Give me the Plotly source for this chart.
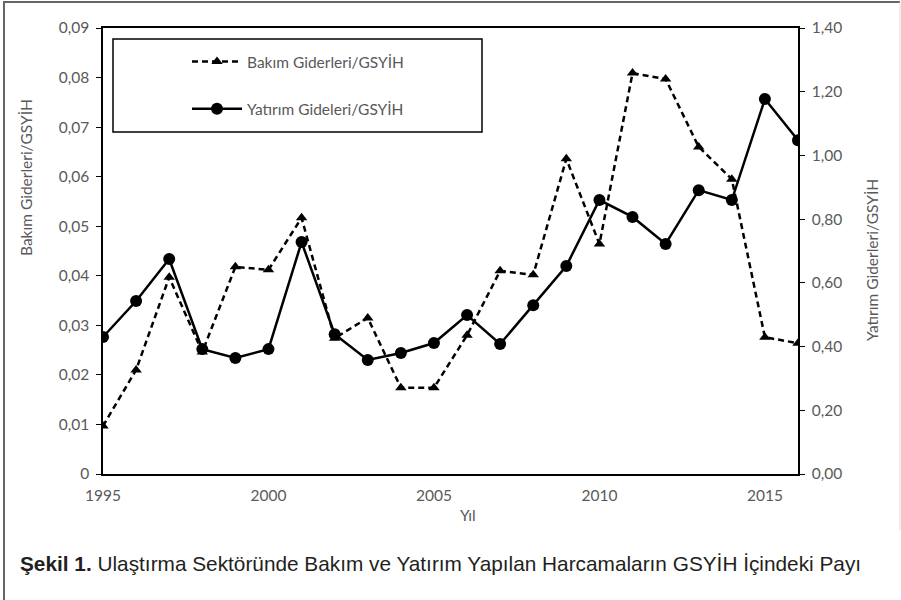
import plotly.graph_objects as go

years = list(range(1995, 2017))
bakim = [0.0097, 0.0210, 0.0397, 0.0246, 0.0418, 0.0412, 0.0517, 0.0274, 0.0315, 0.0174, 0.0174,
         0.0280, 0.0410, 0.0402, 0.0636, 0.0464, 0.0809, 0.0797, 0.0660, 0.0595, 0.0276, 0.0264]
yatirim = [0.430, 0.543, 0.675, 0.392, 0.364, 0.392, 0.728, 0.439, 0.358, 0.380, 0.411,
           0.499, 0.408, 0.530, 0.653, 0.860, 0.807, 0.722, 0.891, 0.860, 1.177, 1.048]

left_ticks = [0, 0.01, 0.02, 0.03, 0.04, 0.05, 0.06, 0.07, 0.08, 0.09]
left_ticktext = ["0", "0,01", "0,02", "0,03", "0,04", "0,05", "0,06", "0,07", "0,08", "0,09"]
right_ticks = [0, 0.2, 0.4, 0.6, 0.8, 1.0, 1.2, 1.4]
right_ticktext = ["0,00", "0,20", "0,40", "0,60", "0,80", "1,00", "1,20", "1,40"]
x_ticks = [1995, 2000, 2005, 2010, 2015]

FAM = "Lato, Open Sans, sans-serif"
TICKFONT = dict(family=FAM, size=15.5, color="#595959")

fig = go.Figure()
fig.add_trace(go.Scatter(
    x=years, y=bakim, name="Bakım Giderleri/GSYİH", mode="lines+markers",
    line=dict(color="black", width=2.5, dash="6px,4px"),
    marker=dict(symbol="triangle-up", size=10, color="black"),
    legendgroup="a", yaxis="y"))
fig.add_trace(go.Scatter(
    x=years, y=yatirim, name="Yatırım Gideleri/GSYİH", mode="lines+markers",
    line=dict(color="black", width=2.5),
    marker=dict(symbol="circle", size=12, color="black"),
    legendgroup="b", yaxis="y2"))

def px_x(p):
    return (p - 103) / 695

def px_y(p):
    return (474 - p) / 446

fig.update_layout(
    width=901, height=600,
    margin=dict(l=103, r=103, t=28, b=126),
    paper_bgcolor="white", plot_bgcolor="white",
    showlegend=True,
    legend=dict(x=px_x(187), y=px_y(45), xanchor="left", yanchor="top",
                bgcolor="rgba(0,0,0,0)", borderwidth=0,
                font=dict(family=FAM, size=15.5, color="#595959"),
                traceorder="grouped", tracegroupgap=24, itemwidth=50),
    xaxis=dict(range=[1995, 2016], tickvals=x_ticks, ticks="", showgrid=False, zeroline=False,
               showline=True, linecolor="black", linewidth=1.5, mirror=True,
               tickfont=TICKFONT, ticklabelstandoff=7),
    yaxis=dict(range=[0, 0.09], tickvals=left_ticks, ticktext=left_ticktext,
               ticks="outside", ticklen=5, tickcolor="black", showgrid=False, zeroline=False,
               showline=True, linecolor="black", linewidth=1.5, tickfont=TICKFONT,
               ticklabelstandoff=4),
    yaxis2=dict(range=[0, 1.4], tickvals=right_ticks, ticktext=right_ticktext,
                overlaying="y", side="right",
                ticks="outside", ticklen=5, tickcolor="black", showgrid=False, zeroline=False,
                showline=True, linecolor="black", linewidth=1.5, tickfont=TICKFONT,
                ticklabelstandoff=4),
    shapes=[
        dict(type="rect", xref="paper", yref="paper",
             x0=px_x(113), x1=px_x(482), y0=px_y(132), y1=px_y(39),
             line=dict(color="black", width=1.5), fillcolor="rgba(0,0,0,0)"),
        dict(type="path", xref="paper", yref="paper",
             path=f"M {px_x(4)} {px_y(600)} L {px_x(4)} {px_y(2)} L {px_x(900)} {px_y(2)}",
             line=dict(color="#666666", width=2)),
        dict(type="line", xref="paper", yref="paper",
             x0=px_x(900), x1=px_x(900), y0=px_y(2), y1=px_y(530),
             line=dict(color="#dddddd", width=1)),
    ],
    annotations=[
        dict(text="Bakım Giderleri/GSYİH", xref="paper", yref="paper",
             x=px_x(26), y=px_y(178), xanchor="center", yanchor="middle",
             textangle=-90, showarrow=False,
             font=dict(family=FAM, size=15.5, color="#595959")),
        dict(text="Yatırım Giderleri/GSYİH", xref="paper", yref="paper",
             x=px_x(872), y=px_y(260), xanchor="center", yanchor="middle",
             textangle=-90, showarrow=False,
             font=dict(family=FAM, size=15.5, color="#595959")),
        dict(text="Yıl", xref="paper", yref="paper",
             x=px_x(468), y=px_y(515), xanchor="center", yanchor="middle", showarrow=False,
             font=dict(family=FAM, size=15.5, color="#595959")),
        dict(text="<b>Şekil 1.</b> Ulaştırma Sektöründe Bakım ve Yatırım Yapılan Harcamaların GSYİH İçindeki Payı",
             xref="paper", yref="paper", x=px_x(18), y=px_y(563), xanchor="left", yanchor="middle",
             showarrow=False,
             font=dict(family="Liberation Sans Narrow, Arial Narrow, Liberation Sans, sans-serif",
                       size=20.8, color="#231f20")),
    ],
)

fig.write_html("out.html", config={"displayModeBar": False},
               post_script="document.body.style.margin='0';")
